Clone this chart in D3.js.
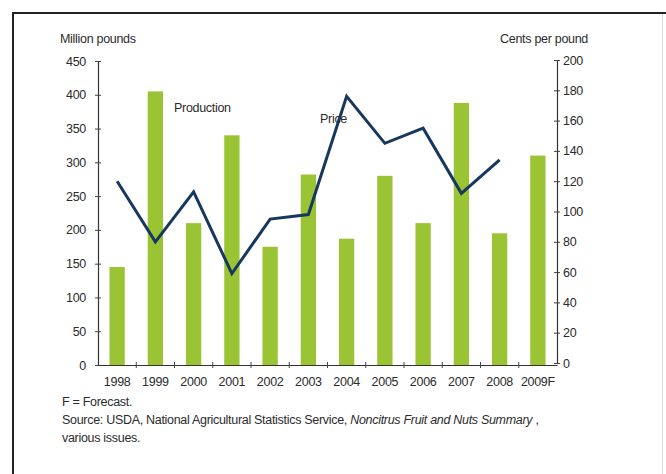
<!DOCTYPE html>
<html>
<head>
<meta charset="utf-8">
<script src="https://cdn.jsdelivr.net/npm/d3@7"></script>
<style>
  html, body { margin: 0; padding: 0; background: #fff; }
  svg text { font-family: "Liberation Sans Narrow", "Arial Narrow", "Liberation Sans", Arial, sans-serif; fill: #2b2b2b; letter-spacing: -0.3px; }
</style>
</head>
<body>
<svg id="chart" width="666" height="474"></svg>
<script>
// Pears: production (million pounds) and grower price (cents per pound)
const years = ["1998", "1999", "2000", "2001", "2002", "2003", "2004", "2005", "2006", "2007", "2008", "2009F"];
const production = [145, 405, 210, 340, 175, 282, 187, 280, 210, 388, 195, 310];
const priceYears = ["1998", "1999", "2000", "2001", "2002", "2003", "2004", "2005", "2006", "2007", "2008"];
const price = [120, 80, 113, 59, 95, 98, 176, 145, 155, 112, 134];
const leftTicks = [0, 50, 100, 150, 200, 250, 300, 350, 400, 450];
const rightTicks = [0, 20, 40, 60, 80, 100, 120, 140, 160, 180, 200];

const svg = d3.select("#chart");

// frame
svg.append("line").attr("x1", 13).attr("x2", 13).attr("y1", 12).attr("y2", 474)
  .attr("stroke", "#222").attr("stroke-width", 2);
svg.append("line").attr("x1", 12).attr("x2", 666).attr("y1", 13).attr("y2", 13)
  .attr("stroke", "#222").attr("stroke-width", 2);
svg.append("line").attr("x1", 662.5).attr("x2", 662.5).attr("y1", 14).attr("y2", 474)
  .attr("stroke", "#ddd").attr("stroke-width", 1);

const plotLeft = 98, plotRight = 557, plotTop = 61, plotBottom = 365;

const x = d3.scaleBand().domain(years).range([plotLeft, plotRight]).paddingInner(0.6).paddingOuter(0.3);
const xBand = d3.scaleBand().domain(years).range([plotLeft, plotRight]);
const yL = d3.scaleLinear().domain([0, 450]).range([plotBottom, plotTop]);
const yR = d3.scaleLinear().domain([0, 200]).range([plotBottom - 2, plotTop - 1]);

// bars
svg.append("g").selectAll("rect").data(years).join("rect")
  .attr("x", d => x(d))
  .attr("width", x.bandwidth())
  .attr("y", (d, i) => yL(production[i]))
  .attr("height", (d, i) => plotBottom - yL(production[i]))
  .attr("fill", "#9bc434");

// price line
const line = d3.line()
  .x((d, i) => xBand(priceYears[i]) + xBand.bandwidth() / 2)
  .y(d => yR(d));
svg.append("path").datum(price)
  .attr("d", line)
  .attr("fill", "none")
  .attr("stroke", "#17375e")
  .attr("stroke-width", 3)
  .attr("stroke-linejoin", "miter");

// left axis
const gL = svg.append("g").attr("transform", `translate(${plotLeft},0)`)
  .call(d3.axisLeft(yL).tickValues(leftTicks).tickSize(0).tickPadding(12));
gL.select(".domain").attr("stroke", "#333").attr("stroke-width", 1.2);
gL.selectAll(".tick").append("line").attr("x1", -3).attr("x2", 3).attr("stroke", "#444");
gL.selectAll("text").attr("font-size", 12.5).attr("font-family", null);

// right axis
const gR = svg.append("g").attr("transform", `translate(${plotRight},0)`)
  .call(d3.axisRight(yR).tickValues(rightTicks).tickSize(0).tickPadding(6));
gR.select(".domain").attr("stroke", "#333").attr("stroke-width", 1.2);
gR.selectAll(".tick").append("line").attr("x1", -3).attr("x2", 3).attr("stroke", "#444");
gR.selectAll("text").attr("font-size", 12.5).attr("font-family", null);

// bottom axis with ticks on category boundaries
const gB = svg.append("g").attr("transform", `translate(0,${plotBottom})`)
  .call(d3.axisBottom(xBand).tickSize(0).tickPadding(12));
gB.select(".domain").attr("stroke", "#333").attr("stroke-width", 1.2);
gB.selectAll("text").attr("font-size", 12.5).attr("font-family", null);
gB.selectAll(".boundary").data(years.slice(1)).join("line")
  .attr("x1", d => xBand(d)).attr("x2", d => xBand(d))
  .attr("y1", -3).attr("y2", 3).attr("stroke", "#444");

// axis titles
svg.append("text").attr("x", 60).attr("y", 43).attr("font-size", 12.5).text("Million pounds");
svg.append("text").attr("x", 588).attr("y", 43).attr("font-size", 12.5).attr("text-anchor", "end").text("Cents per pound");

// series labels
svg.append("text").attr("x", 174).attr("y", 112).attr("font-size", 12.5).text("Production");
svg.append("text").attr("x", 320).attr("y", 123).attr("font-size", 12.5).text("Price");

// notes
svg.append("text").attr("x", 62).attr("y", 406).attr("font-size", 12.5).text("F = Forecast.");
const src = svg.append("text").attr("x", 62).attr("y", 424).attr("font-size", 12.5);
src.append("tspan").text("Source: USDA, National Agricultural Statistics Service, ");
src.append("tspan").attr("font-style", "italic").text("Noncitrus Fruit and Nuts Summary");
src.append("tspan").text(" ,");
svg.append("text").attr("x", 62).attr("y", 442).attr("font-size", 12.5).text("various issues.");
</script>
</body>
</html>
